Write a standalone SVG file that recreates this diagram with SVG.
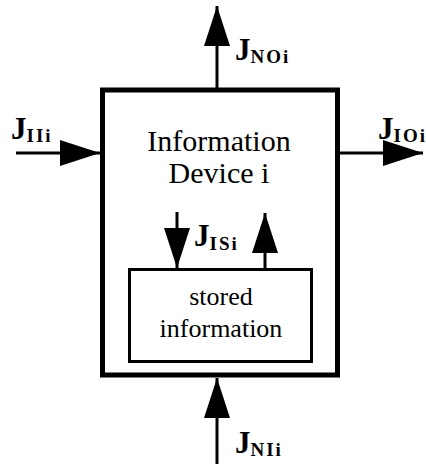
<svg xmlns="http://www.w3.org/2000/svg" width="426" height="464" viewBox="0 0 426 464">
<style>
.box{fill:#fff;stroke:#000}
.title{font-family:"Liberation Serif","Times New Roman",serif;font-size:30px;fill:#000;text-anchor:middle}
.small{font-family:"Liberation Serif","Times New Roman",serif;font-size:26px;fill:#000;text-anchor:middle}
.j{font-family:"Liberation Serif","Times New Roman",serif;font-size:31px;font-weight:bold;fill:#000}
.sub{font-size:19px;letter-spacing:2px}
.conn{stroke:#000;stroke-width:3;fill:none;marker-end:url(#head)}
</style>
<defs>
<marker id="head" markerUnits="userSpaceOnUse" markerWidth="40" markerHeight="26" refX="40" refY="13" orient="auto">
<path d="M0,0 L40,13 L0,26 Z" fill="#000"/>
</marker>
</defs>
<g id="device">
<rect class="box" x="102.5" y="90" width="235" height="285" stroke-width="5"/>
<text class="title" x="219" y="151">Information</text>
<text class="title" x="219" y="183">Device i</text>
</g>
<g id="stored">
<rect class="box" x="129.5" y="269.5" width="182" height="92" stroke-width="3"/>
<text class="small" x="221" y="305">stored</text>
<text class="small" x="221" y="337">information</text>
</g>
<g id="connectors">
<line class="conn" x1="217" y1="88" x2="217" y2="6"/>
<line class="conn" x1="16" y1="153" x2="100" y2="153"/>
<line class="conn" x1="340" y1="153" x2="423" y2="153"/>
<line class="conn" x1="177" y1="212" x2="177" y2="268"/>
<line class="conn" x1="265" y1="268" x2="265" y2="213"/>
<line class="conn" x1="217" y1="464" x2="217" y2="378"/>
</g>
<g id="labels">
<text class="j" x="235" y="60">J<tspan class="sub" dy="3">NOi</tspan></text>
<text class="j" x="11" y="139">J<tspan class="sub" dy="3">IIi</tspan></text>
<text class="j" x="378" y="139">J<tspan class="sub" dy="3">IOi</tspan></text>
<text class="j" x="194" y="246">J<tspan class="sub" dy="4">ISi</tspan></text>
<text class="j" x="235" y="453">J<tspan class="sub" dy="3">NIi</tspan></text>
</g>
</svg>
